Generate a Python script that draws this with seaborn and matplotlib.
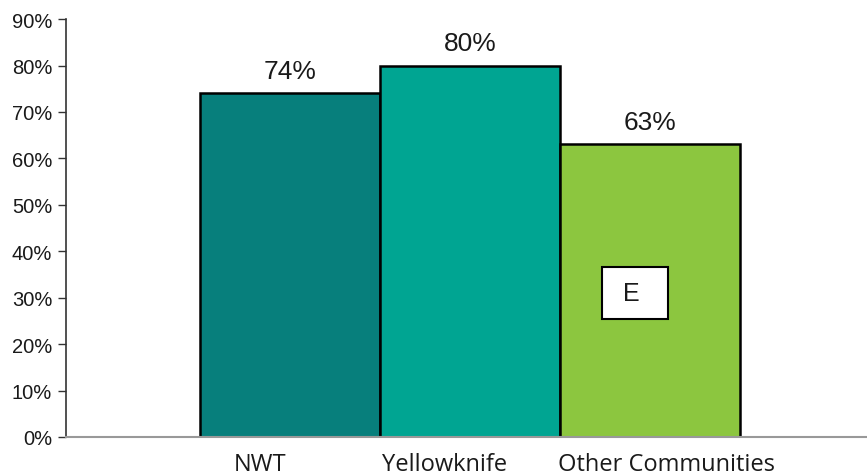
import pandas as pd
import seaborn as sns
import matplotlib.pyplot as plt
import matplotlib.transforms as mtransforms
from matplotlib.ticker import PercentFormatter

# data
regions = ["NWT", "Yellowknife", "Other Communities"]
shares = [74, 80, 63]
colors = ["#077f7c", "#00a592", "#8cc63f"]
flag_region = "Other Communities"
flag_text = "E"
flag_level = 31

df = pd.DataFrame({"region": regions, "share": shares})

sns.set_style("white")
plt.rcParams["font.family"] = ["Liberation Sans", "DejaVu Sans"]

fig = plt.figure(figsize=(8.67, 4.77), dpi=100)
ax = fig.add_axes([0.0761, 0.0818, 0.9239, 0.876])

sns.barplot(data=df, x="region", y="share", hue="region", palette=colors,
            saturation=1, width=1.0, edgecolor="black", linewidth=1.8,
            legend=False, ax=ax)

# value labels above bars
for i, v in enumerate(shares):
    ax.annotate(f"{v}%", (i, v), xytext=(0, 7.5), textcoords="offset points",
                ha="center", va="bottom", fontsize=19, color="#1a1a1a")

# E marker inside the bar (use with caution)
k = regions.index(flag_region)
ax.text(k - 0.189, flag_level, f" {flag_text}  ", ha="left", va="center",
        fontsize=18, color="#1a1a1a",
        bbox=dict(boxstyle="square,pad=0.56", fc="white", ec="black", lw=1.5),
        zorder=5)

ax.set_ylim(0, 90)
ax.set_xlim(-1.247, 3.206)
ax.set_yticks(range(0, 91, 10))
ax.yaxis.set_major_formatter(PercentFormatter(decimals=0))
ax.set_xlabel("")
ax.set_ylabel("")

ax.tick_params(axis="y", left=True, length=6, width=1, color="#333333",
               labelsize=14.5, labelcolor="#1a1a1a", pad=4)
ax.tick_params(axis="x", bottom=False, labelsize=17, labelcolor="#1a1a1a", pad=7)

# category labels in the original sit a little off the bar centres
label_shift_px = [-30, -26, 16]
for lab, dx in zip(ax.get_xticklabels(), label_shift_px):
    lab.set_fontfamily(["Open Sans", "DejaVu Sans"])
    lab.set_transform(lab.get_transform() +
                      mtransforms.ScaledTranslation(dx / 100, 0, fig.dpi_scale_trans))

for s in ["top", "right"]:
    ax.spines[s].set_visible(False)
ax.spines["left"].set_color("#333333")
ax.spines["left"].set_linewidth(1.2)
ax.spines["bottom"].set_color("#999999")
ax.spines["bottom"].set_linewidth(1.5)

fig.savefig("out.png", dpi=100)
